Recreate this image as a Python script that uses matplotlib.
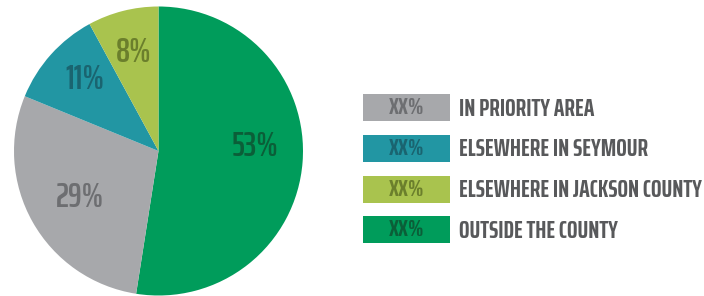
import numpy as np
import matplotlib
matplotlib.use("Agg")
import matplotlib.pyplot as plt
from matplotlib.patches import Rectangle

categories = ["IN PRIORITY AREA", "ELSEWHERE IN SEYMOUR", "ELSEWHERE IN JACKSON COUNTY", "OUTSIDE THE COUNTY"]
legend_values = ["XX%", "XX%", "XX%", "XX%"]
pie_order = ["OUTSIDE THE COUNTY", "IN PRIORITY AREA", "ELSEWHERE IN SEYMOUR", "ELSEWHERE IN JACKSON COUNTY"]
pie_values = [53, 29, 11, 8]
pie_labels = ["53%", "29%", "11%", "8%"]

colors = {"IN PRIORITY AREA": "#A7A8AB", "ELSEWHERE IN SEYMOUR": "#2296A3",
          "ELSEWHERE IN JACKSON COUNTY": "#A9C34E", "OUTSIDE THE COUNTY": "#009C5B"}
text_colors = {"IN PRIORITY AREA": "#6D6E71", "ELSEWHERE IN SEYMOUR": "#1A6470",
               "ELSEWHERE IN JACKSON COUNTY": "#6B7F2C", "OUTSIDE THE COUNTY": "#0B5E38"}
# label placement style: (distance from centre, angle offset in degrees)
label_place = {"IN PRIORITY AREA": (0.63, 1), "ELSEWHERE IN SEYMOUR": (0.71, -2),
               "ELSEWHERE IN JACKSON COUNTY": (0.70, 0), "OUTSIDE THE COUNTY": (0.67, 7)}

FONT = ["Saira ExtraCondensed", "Barlow Condensed", "DejaVu Sans"]

W, H = 704, 296
fig = plt.figure(figsize=(W / 100, H / 100), dpi=100)
fig.patch.set_facecolor("white")

ax = fig.add_axes([14 / W, 0.5 / H, 289 / W, 289 / H])
wedges, _ = ax.pie(pie_values, colors=[colors[c] for c in pie_order], startangle=90,
                   counterclock=False, radius=1, wedgeprops=dict(linewidth=0))
ax.set_xlim(-1, 1)
ax.set_ylim(-1, 1)
ax.set_aspect("equal")
ax.axis("off")

for w, name, lab in zip(wedges, pie_order, pie_labels):
    d, off = label_place[name]
    ang = np.deg2rad((w.theta1 + w.theta2) / 2 + off)
    ax.text(d * np.cos(ang), d * np.sin(ang), lab, ha="center", va="center",
            fontsize=25, fontweight=600, color=text_colors[name], family=FONT)

lax = fig.add_axes([0, 0, 1, 1])
lax.set_xlim(0, W)
lax.set_ylim(H, 0)
lax.axis("off")
box_tops = [94, 134.5, 175.5, 216]
for cat, val, top in zip(categories, legend_values, box_tops):
    lax.add_patch(Rectangle((363, top), 87, 27, facecolor=colors[cat], edgecolor="none"))
    lax.text(406.5, top + 14.5, val, ha="center", va="center", fontsize=17, fontweight=700,
             color=text_colors[cat], family=FONT)
    lax.text(459, top + 14.5, cat, ha="left", va="center", fontsize=18.2, fontweight=700,
             color="#58595B", family=FONT)

fig.savefig("out.png", dpi=100, facecolor="white")
